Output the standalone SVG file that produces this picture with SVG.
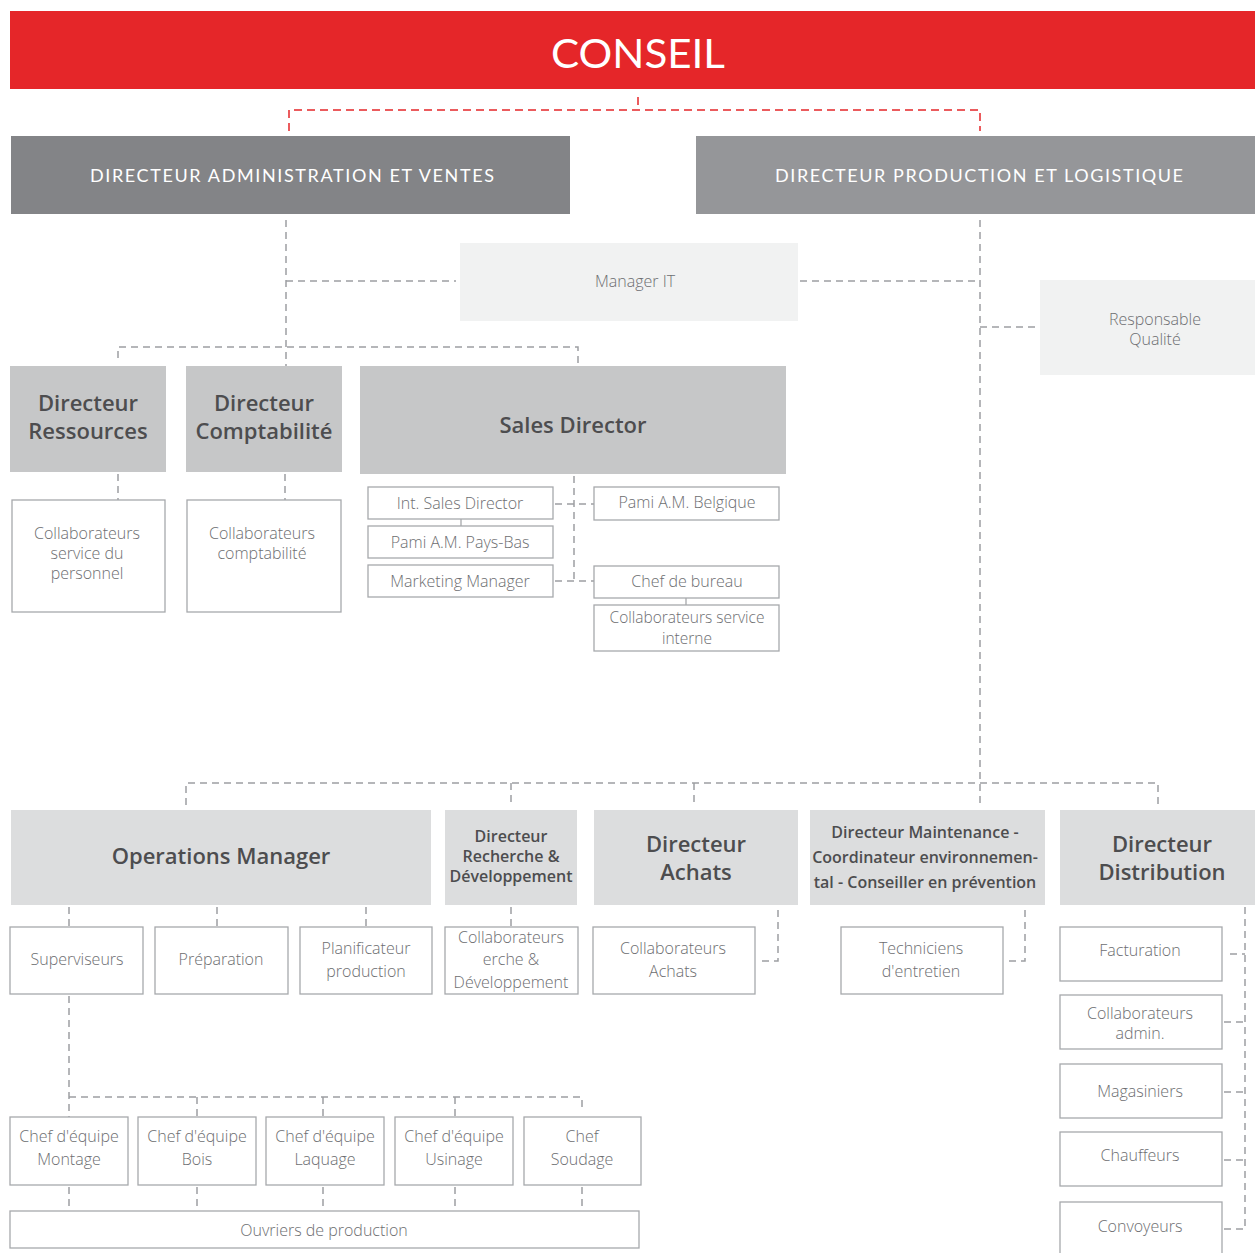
<svg xmlns="http://www.w3.org/2000/svg" width="1255" height="1253" viewBox="0 0 1255 1253">
<style>
.bg{fill:#ffffff}
.lt{font-family:"Open Sans","Liberation Sans",sans-serif;font-weight:300;font-size:16px;fill:#6d6e71;text-anchor:middle}
.hd{font-family:"Open Sans","Liberation Sans",sans-serif;font-weight:600;font-size:22px;fill:#4d4d4f;text-anchor:middle}
.hs{font-family:"Open Sans","Liberation Sans",sans-serif;font-weight:600;font-size:16px;fill:#4d4d4f;text-anchor:middle}
.cap{font-family:"Lato","Liberation Sans",sans-serif;font-weight:400;font-size:18px;fill:#ffffff;text-anchor:middle}
.box{fill:#ffffff;stroke:#a7a9ac;stroke-width:1.3}
.d1{fill:#c6c7c8}
.d2{fill:#dcddde}
.d3{fill:#f1f2f2}
.cn{fill:none;stroke:#9d9fa2;stroke-width:1.5;stroke-dasharray:7 5}
.cr{fill:none;stroke:#e52629;stroke-width:1.5;stroke-dasharray:8 5}
.sl{fill:none;stroke:#a7a9ac;stroke-width:1.3}
</style>
<rect class="bg" x="0" y="0" width="1255" height="1253"/>

<g id="connectors">
  <path class="cr" d="M638 97V110M289 131V110H980V131"/>
  <path class="cn" d="M286 220V366M286 281H456M800 281H980M980 220V808M980 327H1040"/>
  <path class="cn" d="M118 358V347H578V366"/>
  <path class="cn" d="M118 474V500M285 474V500"/>
  <path class="cn" d="M574 476V581M555 504H594M555 581H594"/>
  <path class="sl" d="M461 519V526M686 598V605"/>
  <path class="cn" d="M186 805V783H1158V808M511 783V805M694 783V805"/>
  <path class="cn" d="M69 907V927M217 907V927M366 907V927M511 907V927"/>
  <path class="cn" d="M778 910V961H757M1025 910V961H1005"/>
  <path class="cn" d="M1245 907V1229H1224M1230 954H1245M1224 1022H1245M1224 1092H1245M1224 1160H1245"/>
  <path class="cn" d="M69 996V1117M69 1097H582V1112M197 1097V1117M323 1097V1117M455 1097V1117"/>
  <path class="cn" d="M69 1187V1211M197 1187V1211M323 1187V1211M455 1187V1211M582 1187V1211"/>
</g>

<g id="conseil">
  <rect x="10" y="11" width="1245" height="78" fill="#e52629"/>
  <text x="638" y="68" font-family="Lato,'Liberation Sans',sans-serif" font-size="40" font-weight="400" fill="#ffffff" text-anchor="middle" textLength="174" lengthAdjust="spacingAndGlyphs">CONSEIL</text>
</g>

<g id="dir-admin">
  <rect x="11" y="136" width="559" height="78" fill="#838487"/>
  <text class="cap" x="292" y="182" textLength="404" lengthAdjust="spacing">DIRECTEUR ADMINISTRATION ET VENTES</text>
</g>
<g id="dir-prod">
  <rect x="696" y="136" width="559" height="78" fill="#959699"/>
  <text class="cap" x="979" y="182" textLength="408" lengthAdjust="spacing">DIRECTEUR PRODUCTION ET LOGISTIQUE</text>
</g>

<g id="manager-it">
  <rect class="d3" x="460" y="243" width="338" height="78"/>
  <text class="lt" x="635" y="287">Manager IT</text>
</g>
<g id="resp-qualite">
  <rect class="d3" x="1040" y="280" width="215" height="95"/>
  <text class="lt" x="1155" y="325">Responsable</text>
  <text class="lt" x="1155" y="345">Qualité</text>
</g>

<g id="dir-ressources">
  <rect class="d1" x="10" y="366" width="156" height="106"/>
  <text class="hd" x="88" y="411">Directeur</text>
  <text class="hd" x="88" y="439">Ressources</text>
</g>
<g id="dir-compta">
  <rect class="d1" x="186" y="366" width="156" height="106"/>
  <text class="hd" x="264" y="411">Directeur</text>
  <text class="hd" x="264" y="439">Comptabilité</text>
</g>
<g id="sales-director">
  <rect class="d1" x="360" y="366" width="426" height="108"/>
  <text class="hd" x="573" y="433">Sales Director</text>
</g>

<g id="collab-personnel">
  <rect class="box" x="12" y="500" width="153" height="112"/>
  <text class="lt" x="87" y="539">Collaborateurs</text>
  <text class="lt" x="87" y="559">service du</text>
  <text class="lt" x="87" y="579">personnel</text>
</g>
<g id="collab-compta">
  <rect class="box" x="187" y="500" width="154" height="112"/>
  <text class="lt" x="262" y="539">Collaborateurs</text>
  <text class="lt" x="262" y="559">comptabilité</text>
</g>

<g id="int-sales">
  <rect class="box" x="368" y="487" width="185" height="32"/>
  <text class="lt" x="460" y="509">Int. Sales Director</text>
</g>
<g id="pami-pb">
  <rect class="box" x="368" y="526" width="185" height="32"/>
  <text class="lt" x="460" y="548">Pami A.M. Pays-Bas</text>
</g>
<g id="marketing">
  <rect class="box" x="368" y="565" width="185" height="32"/>
  <text class="lt" x="460" y="587">Marketing Manager</text>
</g>
<g id="pami-be">
  <rect class="box" x="594" y="487" width="185" height="33"/>
  <text class="lt" x="687" y="508">Pami A.M. Belgique</text>
</g>
<g id="chef-bureau">
  <rect class="box" x="594" y="566" width="185" height="32"/>
  <text class="lt" x="687" y="587">Chef de bureau</text>
</g>
<g id="collab-interne">
  <rect class="box" x="594" y="605" width="185" height="46"/>
  <text class="lt" x="687" y="623" style="font-size:15.5px">Collaborateurs service</text>
  <text class="lt" x="687" y="644" style="font-size:15.5px">interne</text>
</g>

<g id="operations-manager">
  <rect class="d2" x="11" y="810" width="420" height="95"/>
  <text class="hd" x="221" y="864">Operations Manager</text>
</g>
<g id="dir-rd">
  <rect class="d2" x="445" y="810" width="132" height="95"/>
  <text class="hs" x="511" y="842">Directeur</text>
  <text class="hs" x="511" y="862">Recherche &amp;</text>
  <text class="hs" x="511" y="882">Développement</text>
</g>
<g id="dir-achats">
  <rect class="d2" x="594" y="810" width="204" height="95"/>
  <text class="hd" x="696" y="852">Directeur</text>
  <text class="hd" x="696" y="880">Achats</text>
</g>
<g id="dir-maintenance">
  <rect class="d2" x="810" y="810" width="235" height="95"/>
  <text class="hs" x="925" y="838">Directeur Maintenance -</text>
  <text class="hs" x="925" y="863">Coordinateur environnemen-</text>
  <text class="hs" x="925" y="888">tal - Conseiller en prévention</text>
</g>
<g id="dir-distribution">
  <rect class="d2" x="1060" y="810" width="195" height="95"/>
  <text class="hd" x="1162" y="852">Directeur</text>
  <text class="hd" x="1162" y="880">Distribution</text>
</g>

<g id="superviseurs">
  <rect class="box" x="10" y="927" width="133" height="67"/>
  <text class="lt" x="77" y="965">Superviseurs</text>
</g>
<g id="preparation">
  <rect class="box" x="155" y="927" width="133" height="67"/>
  <text class="lt" x="221" y="965">Préparation</text>
</g>
<g id="planificateur">
  <rect class="box" x="300" y="927" width="132" height="67"/>
  <text class="lt" x="366" y="954">Planificateur</text>
  <text class="lt" x="366" y="977">production</text>
</g>
<g id="collab-rd">
  <rect class="box" x="445" y="927" width="133" height="67"/>
  <text class="lt" x="511" y="943">Collaborateurs</text>
  <text class="lt" x="511" y="965">erche &amp;</text>
  <text class="lt" x="511" y="988">Développement</text>
</g>
<g id="collab-achats">
  <rect class="box" x="593" y="927" width="162" height="67"/>
  <text class="lt" x="673" y="954">Collaborateurs</text>
  <text class="lt" x="673" y="977">Achats</text>
</g>
<g id="techniciens">
  <rect class="box" x="841" y="927" width="162" height="67"/>
  <text class="lt" x="921" y="954">Techniciens</text>
  <text class="lt" x="921" y="977">d'entretien</text>
</g>

<g id="facturation">
  <rect class="box" x="1060" y="927" width="162" height="54"/>
  <text class="lt" x="1140" y="956">Facturation</text>
</g>
<g id="collab-admin">
  <rect class="box" x="1060" y="995" width="162" height="54"/>
  <text class="lt" x="1140" y="1019">Collaborateurs</text>
  <text class="lt" x="1140" y="1039">admin.</text>
</g>
<g id="magasiniers">
  <rect class="box" x="1060" y="1064" width="162" height="54"/>
  <text class="lt" x="1140" y="1097">Magasiniers</text>
</g>
<g id="chauffeurs">
  <rect class="box" x="1060" y="1132" width="162" height="54"/>
  <text class="lt" x="1140" y="1161">Chauffeurs</text>
</g>
<g id="convoyeurs">
  <rect class="box" x="1060" y="1202" width="162" height="56"/>
  <text class="lt" x="1140" y="1232">Convoyeurs</text>
</g>

<g id="chef-montage">
  <rect class="box" x="10" y="1117" width="118" height="68"/>
  <text class="lt" x="69" y="1142">Chef d'équipe</text>
  <text class="lt" x="69" y="1165">Montage</text>
</g>
<g id="chef-bois">
  <rect class="box" x="138" y="1117" width="118" height="68"/>
  <text class="lt" x="197" y="1142">Chef d'équipe</text>
  <text class="lt" x="197" y="1165">Bois</text>
</g>
<g id="chef-laquage">
  <rect class="box" x="266" y="1117" width="118" height="68"/>
  <text class="lt" x="325" y="1142">Chef d'équipe</text>
  <text class="lt" x="325" y="1165">Laquage</text>
</g>
<g id="chef-usinage">
  <rect class="box" x="395" y="1117" width="118" height="68"/>
  <text class="lt" x="454" y="1142">Chef d'équipe</text>
  <text class="lt" x="454" y="1165">Usinage</text>
</g>
<g id="chef-soudage">
  <rect class="box" x="524" y="1117" width="117" height="68"/>
  <text class="lt" x="582" y="1142">Chef</text>
  <text class="lt" x="582" y="1165">Soudage</text>
</g>
<g id="ouvriers">
  <rect class="box" x="10" y="1211" width="629" height="37"/>
  <text class="lt" x="324" y="1236">Ouvriers de production</text>
</g>
</svg>
